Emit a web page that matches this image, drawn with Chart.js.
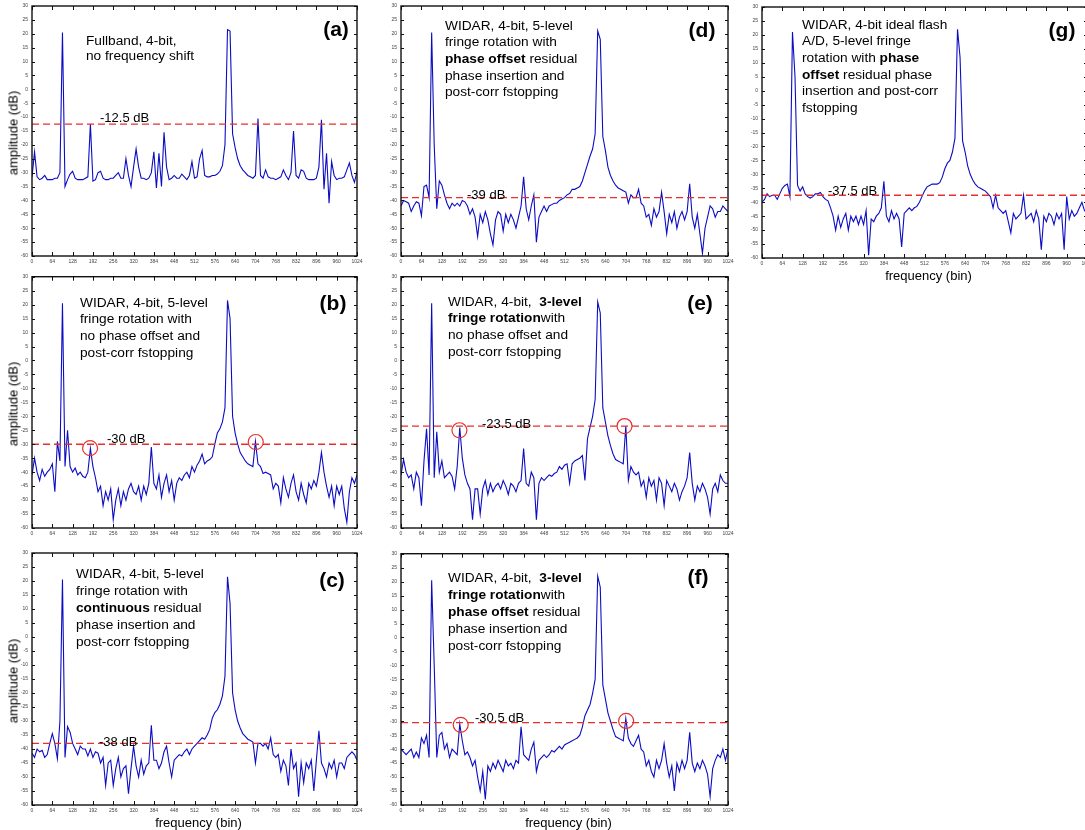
<!DOCTYPE html>
<html>
<head>
<meta charset="utf-8">
<title>WIDAR spectra</title>
<script src="https://cdn.jsdelivr.net/npm/chart.js@4.4.1/dist/chart.umd.min.js"></script>
<style>
html, body { margin: 0; padding: 0; background: #fff; overflow: hidden; width: 1085px; height: 830px; }
body { position: relative; font-family: "Liberation Sans", Arial, sans-serif; color: #000; }
canvas { position: absolute; }
.note { position: absolute; font-size: 13.7px; white-space: nowrap; }
.tag { position: absolute; font-size: 21px; font-weight: bold; transform: translate(-50%, -50%); }
.lvl { position: absolute; font-size: 13px; transform: translateY(-50%); white-space: nowrap; }
.ylab { position: absolute; font-size: 13px; transform: translate(-50%, -50%) rotate(-90deg); white-space: nowrap; }
.xlab { position: absolute; font-size: 13px; transform: translate(-50%, -50%); white-space: nowrap; }
</style>
</head>
<body>
<script>
// === data ===
const BINS = [
    0, 8, 16, 24, 32, 40, 48, 56, 64, 72, 80, 88, 96, 104, 112, 120,
    128, 136, 144, 152, 160, 168, 176, 184, 192, 200, 208, 216, 224, 232, 240, 248,
    256, 264, 272, 280, 288, 296, 304, 312, 320, 328, 336, 344, 352, 360, 368, 376,
    384, 392, 400, 408, 416, 424, 432, 440, 448, 456, 464, 472, 480, 488, 496, 504,
    512, 520, 528, 536, 544, 552, 560, 568, 576, 584, 592, 600, 608, 616, 624, 632,
    640, 648, 656, 664, 672, 680, 688, 696, 704, 712, 720, 728, 736, 744, 752, 760,
    768, 776, 784, 792, 800, 808, 816, 824, 832, 840, 848, 856, 864, 872, 880, 888,
    896, 904, 912, 920, 928, 936, 944, 952, 960, 968, 976, 984, 992, 1000, 1008, 1016,
    1024
];

// (a) fullband, no frequency shift
const A_DB = [
    -31.5, -22.5, -31.5, -32.5, -32, -31, -32.5, -32.5, -32.5, -32, -32, -30, 20.5, -35, -32.5, -30.5,
    -29.5, -32, -32.5, -32.5, -32.5, -32, -31.5, -12.5, -33, -32.5, -30, -29.5, -32, -32.5, -32.5, -32,
    -32, -31, -30, -32, -32, -25, -31, -35, -28, -21.5, -28, -32, -32, -32.5, -32, -30,
    -22.5, -35.5, -23, -35, -15.5, -28, -32.5, -32, -31, -32, -32, -30.5, -31.5, -32.5, -31, -26,
    -32, -31.5, -25, -22, -31, -31.5, -31.5, -31, -31, -30.5, -29.5, -27.5, -20, 21.5, 21, -16,
    -21, -25, -27.5, -29, -30, -31, -31.5, -32, -31, -10.5, -31, -32, -29, -31.5, -32, -32,
    -32.5, -32, -31.5, -29, -31, -32.5, -30, -15, -31, -32, -29, -29.5, -32, -32.5, -32.5, -32.5,
    -32, -28, -11, -36, -23, -41, -26, -31, -32.5, -32, -32, -31.5, -29, -26.5, -31, -33.5,
    -29.5
];

// (b) 5-level, no phase offset
const B_DB = [
    -41, -35, -40, -43, -39, -41.5, -40, -39, -37, -47, -29, -36, 20.5, -38, -25, -38,
    -40, -38.5, -41, -40, -41.5, -42, -40, -31.5, -38, -42, -47, -45, -52, -47, -50, -46,
    -57, -50, -46, -52, -47, -50, -46, -44, -47, -48, -45, -50, -45, -48, -44, -31,
    -44, -46, -41, -49, -44, -41, -47, -43, -50, -44, -42, -43, -41, -40, -42, -38,
    -40, -37.5, -36, -33.5, -37, -36, -35.5, -34.5, -30, -26, -24.5, -22, -17, 21.5, 15, -20,
    -26, -30, -33, -34.5, -36, -37, -37.5, -38, -29, -37, -38, -40.5, -40, -40.5, -41, -46,
    -44, -45, -51, -42, -46, -49, -44, -41, -47, -50, -44, -48, -51, -44, -46, -43,
    -45, -40, -33, -40, -45, -49, -45, -52, -45, -48, -45, -53, -58, -47, -42, -44,
    -41
];

// (c) 5-level, continuous residual phase
const C_DB = [
    -41.5, -43, -40, -41, -40.5, -43, -42, -38, -34.5, -38, -43.5, -30, 20.5, -43, -32, -34,
    -38, -40, -42, -39, -40, -40, -42.5, -40, -43, -41, -41.5, -45, -43, -53, -45, -44,
    -53, -47, -43, -50, -47, -46, -56, -47, -39, -46, -50, -44, -49, -46, -45, -31.5,
    -44, -44, -47, -45, -41, -39, -45, -50, -44, -43, -42, -42.5, -41, -40, -42, -40,
    -39, -38, -37, -36, -36.5, -35, -33, -29, -27, -26, -24, -21, -14, 21.5, 12, -20,
    -26, -30, -32.5, -34.5, -35.5, -36.5, -37, -37.5, -45, -38, -38, -39, -38, -40, -36, -42,
    -43, -42, -48, -44, -46, -53, -40, -47, -45, -57, -45, -52, -45, -47, -44, -55,
    -44, -33.5, -45, -47, -50, -45, -47, -44, -50, -45, -45, -47, -43, -42, -41, -42,
    -44
];

// (d) 5-level, phase offset
const D_DB = [
    -42, -40, -40.5, -41, -44, -42, -40.5, -41, -45.5, -35, -34.5, -39, 20.5, -20, -43, -33,
    -34.5, -38, -41, -43, -41, -42, -41, -42, -40, -40.5, -42, -45, -43, -46, -53, -45,
    -48, -44, -47, -52, -56, -47, -44, -45, -51, -45, -48, -45, -47, -50, -46, -42,
    -31.5, -43, -47, -42, -38, -55, -46, -44, -42, -44, -42, -41.5, -41, -41, -40, -39.5,
    -39, -38, -37.5, -36, -36, -35.5, -35, -33, -30, -27, -24, -21.5, -16, 21, 18, -17,
    -22, -28, -31, -33, -34.5, -35.5, -36, -36.5, -37, -41, -38, -39, -39, -36, -41, -42,
    -46, -45, -49, -43, -46, -44, -37, -44, -52, -45, -48, -44, -50, -46, -44, -47,
    -44, -34, -46, -50, -45, -52, -59, -50, -46, -42, -43, -46, -44, -44, -42, -43,
    -44
];

// (e) 3-level, no phase offset
const E_DB = [
    -41, -35.5, -40, -42, -41, -46, -40, -42, -52, -36, -24.5, -41, 20.5, -42, -25.5, -40,
    -36, -42, -41, -40, -41.5, -46, -38, -24, -35, -41, -44, -46, -57, -46, -46, -55,
    -46, -43, -48, -44, -47, -45, -44, -46, -43, -45, -48, -44, -45, -47, -44, -43,
    -31.5, -44, -45, -40, -42, -57, -44, -42, -43, -42, -41, -41.5, -40.5, -40, -38, -39,
    -37.5, -37, -44, -37, -36, -35.5, -35, -34, -43, -28, -24, -20, -14, 21, 17, -17,
    -22, -27, -30.5, -33.5, -35.5, -36, -36.5, -37, -23.5, -43, -38, -40, -41, -40, -45, -43,
    -49, -42, -45, -43, -50, -42, -44, -52, -43, -45, -47, -44, -46, -50, -47, -45,
    -42, -33, -44, -50, -45, -47, -44, -46, -49, -55, -46, -44, -47, -41, -43, -44,
    -44
];

// (f) 3-level, phase offset
const F_DB = [
    -40, -41, -42, -41, -40, -43, -41, -43, -36, -38, -35, -43, 20.5, -10, -43, -35,
    -34, -40, -38, -43, -40, -41, -42, -31, -37, -42, -41, -43, -46, -44, -50, -55,
    -48, -58, -46, -48, -45, -47, -44, -46, -48, -44, -46, -45, -47, -44, -45, -32,
    -42, -43, -44, -40, -37.5, -48, -44, -43, -42, -43, -42, -40.5, -41, -40, -39, -40,
    -38.5, -38, -37.5, -37, -36.5, -36, -35, -32, -28, -26, -24, -20, -15, 22, 18, -17,
    -22, -27, -30, -33, -35.5, -36, -36.5, -37, -29, -36, -38, -39, -37, -35, -40, -41,
    -46, -44, -48, -50, -44, -47, -44, -38, -45, -50, -46, -55, -45, -48, -44, -47,
    -44, -34, -45, -48, -45, -47, -44, -46, -49, -57, -47, -44, -42, -43, -40, -44,
    -40
];

// (g) ideal flash A/D, 5-level, phase offset
const G_DB = [
    -40, -39, -37, -38, -37.5, -37.5, -39, -37, -35, -34, -33.5, -38, 21, 5, -34, -36,
    -34.5, -37, -38, -38.5, -38, -37, -37, -36.5, -38, -39, -39.5, -42, -45, -50, -45, -49,
    -46, -44, -50, -45, -47, -45, -48, -45, -48, -43, -59, -46, -47, -45, -44, -42,
    -32.5, -45, -47, -43, -46, -44, -46, -56, -44, -43, -42, -43, -42, -41.5, -40, -38,
    -36, -34.5, -34, -33.5, -33.5, -33.5, -33, -31, -28, -26, -25, -22, -17, 22, 12, -18,
    -22, -27, -30, -32, -33.5, -34.5, -35, -35.5, -36, -37, -38, -42, -37.5, -42, -43, -44,
    -43, -47, -51, -44, -46, -45, -44, -37.5, -46, -45, -44, -47, -43, -46, -57, -45,
    -47, -44, -45, -48, -44, -46, -44, -57, -38, -46, -43, -45, -44, -42, -40, -43,
    -44
];

// dashed reference levels (dB), panels a..g
const LEVELS = [-12.5, -30, -38, -39, -23.5, -30.5, -37.5];

// circled spurs [bin, dB]
const B_SPURS = [[183, -31.4], [705, -29.2]];
const E_SPURS = [[183, -25], [700, -23.5]];
const F_SPURS = [[187, -31.3], [705, -29.9]];

const X_RANGE = [0, 1024];
const Y_RANGE = [-60, 30];

// === layout (plot frame in page px) ===
const PAD = { l: 32, t: 8, r: 12, b: 14 };
const BLUE = "#0c0cc4";
const RED = "#e5302f";

const PANELS = [
    { tag: "(a)", vals: A_DB, level: LEVELS[0], spurs: [], x: 32, y: 6, w: 325, h: 250,
      tagAt: [336, 29], noteAt: [86, 32.5], lh: 15, lvlAt: [100, 117], ylab: true,
      note: ["Fullband, 4-bit,", "no frequency shift"] },
    { tag: "(b)", vals: B_DB, level: LEVELS[1], spurs: B_SPURS, x: 32, y: 276, w: 325, h: 252,
      tagAt: [333, 303], noteAt: [80, 294.5], lh: 16.7, lvlAt: [107, 438], ylab: true,
      note: ["WIDAR, 4-bit, 5-level", "fringe rotation with", "no phase offset and", "post-corr fstopping"] },
    { tag: "(c)", vals: C_DB, level: LEVELS[2], spurs: [], x: 32, y: 553, w: 325, h: 252,
      tagAt: [332, 580], noteAt: [76, 565], lh: 17, lvlAt: [99, 741], ylab: true, xlab: true,
      note: ["WIDAR, 4-bit, 5-level", "fringe rotation with", "<b>continuous</b> residual", "phase insertion and", "post-corr fstopping"] },
    { tag: "(d)", vals: D_DB, level: LEVELS[3], spurs: [], x: 401, y: 6, w: 327, h: 250,
      tagAt: [702, 30], noteAt: [445, 17.5], lh: 16.7, lvlAt: [467, 194],
      note: ["WIDAR, 4-bit, 5-level", "fringe rotation with", "<b>phase offset</b> residual", "phase insertion and", "post-corr fstopping"] },
    { tag: "(e)", vals: E_DB, level: LEVELS[4], spurs: E_SPURS, x: 401, y: 276, w: 327, h: 252,
      tagAt: [700, 303], noteAt: [448, 293.5], lh: 16.7, lvlAt: [482, 423],
      note: ["WIDAR, 4-bit,&nbsp; <b>3-level</b>", "<b>fringe rotation</b>with", "no phase offset and", "post-corr fstopping"] },
    { tag: "(f)", vals: F_DB, level: LEVELS[5], spurs: F_SPURS, x: 401, y: 553, w: 327, h: 252,
      tagAt: [698, 577], noteAt: [448, 568.5], lh: 17, lvlAt: [475, 717], xlab: true,
      note: ["WIDAR, 4-bit,&nbsp; <b>3-level</b>", "<b>fringe rotation</b>with", "<b>phase offset</b> residual", "phase insertion and", "post-corr fstopping"] },
    { tag: "(g)", vals: G_DB, level: LEVELS[6], spurs: [], x: 762, y: 7, w: 325, h: 251,
      tagAt: [1062, 30], noteAt: [802, 16.5], lh: 16.7, lvlAt: [828, 190], xlab: true, xlabY: 275,
      note: ["WIDAR, 4-bit ideal flash", "A/D, 5-level fringe", "rotation with <b>phase</b>", "<b>offset</b> residual phase", "insertion and post-corr", "fstopping"] },
];

// frame + inward tick marks on all four sides
const frameTicks = {
    id: "frameTicks",
    afterDraw(chart) {
        const { ctx, chartArea: a, scales: { x, y } } = chart;
        ctx.save();
        ctx.strokeStyle = "#111";
        ctx.lineWidth = 1;
        ctx.beginPath();
        x.ticks.forEach(t => {
            const px = Math.round(x.getPixelForValue(t.value)) + 0.5;
            ctx.moveTo(px, a.top); ctx.lineTo(px, a.top + 4);
            ctx.moveTo(px, a.bottom); ctx.lineTo(px, a.bottom - 4);
        });
        y.ticks.forEach(t => {
            const py = Math.round(y.getPixelForValue(t.value)) + 0.5;
            ctx.moveTo(a.left, py); ctx.lineTo(a.left + 3, py);
            ctx.moveTo(a.right, py); ctx.lineTo(a.right - 3, py);
        });
        ctx.stroke();
        ctx.lineWidth = 1.4;
        ctx.strokeRect(a.left, a.top, a.right - a.left, a.bottom - a.top);
        ctx.restore();
    }
};

function addDiv(cls, html, left, top) {
    const d = document.createElement("div");
    d.className = cls;
    d.innerHTML = html;
    d.style.left = left + "px";
    d.style.top = top + "px";
    document.body.appendChild(d);
    return d;
}

function makePanel(p) {
    const canvas = document.createElement("canvas");
    canvas.width = p.w + PAD.l + PAD.r;
    canvas.height = p.h + PAD.t + PAD.b;
    canvas.style.left = (p.x - PAD.l) + "px";
    canvas.style.top = (p.y - PAD.t) + "px";
    document.body.appendChild(canvas);

    const tickFont = { family: "'Liberation Sans', Arial, sans-serif", size: 5 };

    new Chart(canvas, {
        type: "line",
        data: {
            datasets: [
                {
                    data: BINS.map((b, i) => ({ x: b, y: p.vals[i] })),
                    borderColor: BLUE,
                    borderWidth: 1.1,
                    pointRadius: 0,
                    tension: 0,
                    order: 3,
                },
                {
                    data: X_RANGE.map(b => ({ x: b, y: p.level })),
                    borderColor: RED,
                    borderWidth: 1.3,
                    borderDash: [7, 4],
                    pointRadius: 0,
                    order: 2,
                },
                {
                    data: p.spurs.map(s => ({ x: s[0], y: s[1] })),
                    showLine: false,
                    pointRadius: 7.5,
                    pointBorderColor: RED,
                    pointBackgroundColor: "rgba(0,0,0,0)",
                    pointBorderWidth: 1.2,
                    order: 1,
                },
            ]
        },
        options: {
            responsive: false,
            animation: false,
            events: [],
            layout: { padding: { left: 0, top: PAD.t, right: PAD.r, bottom: 0 } },
            plugins: { legend: { display: false }, tooltip: { enabled: false } },
            scales: {
                x: {
                    type: "linear",
                    min: X_RANGE[0],
                    max: X_RANGE[1],
                    afterFit: s => { s.height = PAD.b; },
                    ticks: { stepSize: 64, autoSkip: false, maxRotation: 0, minRotation: 0,
                             font: tickFont, color: "#444", padding: 3,
                             callback: v => String(v) },
                    grid: { display: false, drawTicks: false },
                    border: { display: false },
                },
                y: {
                    min: Y_RANGE[0],
                    max: Y_RANGE[1],
                    afterFit: s => { s.width = PAD.l; },
                    ticks: { stepSize: 5, autoSkip: false, font: tickFont, color: "#444", padding: 4,
                             callback: v => String(v) },
                    grid: { display: false, drawTicks: false },
                    border: { display: false },
                }
            }
        },
        plugins: [frameTicks]
    });

    // annotation text
    const note = addDiv("note", p.note.join("<br>"), p.noteAt[0], p.noteAt[1]);
    note.style.lineHeight = p.lh + "px";
    addDiv("tag", p.tag, p.tagAt[0], p.tagAt[1]);
    addDiv("lvl", p.level + " dB", p.lvlAt[0], p.lvlAt[1]);
    if (p.ylab) addDiv("ylab", "amplitude (dB)", 13, p.y + p.h / 2 + 2);
    if (p.xlab) addDiv("xlab", "frequency (bin)", p.x + p.w / 2 + 4, p.xlabY || 822);
}

PANELS.forEach(makePanel);
</script>
</body>
</html>
